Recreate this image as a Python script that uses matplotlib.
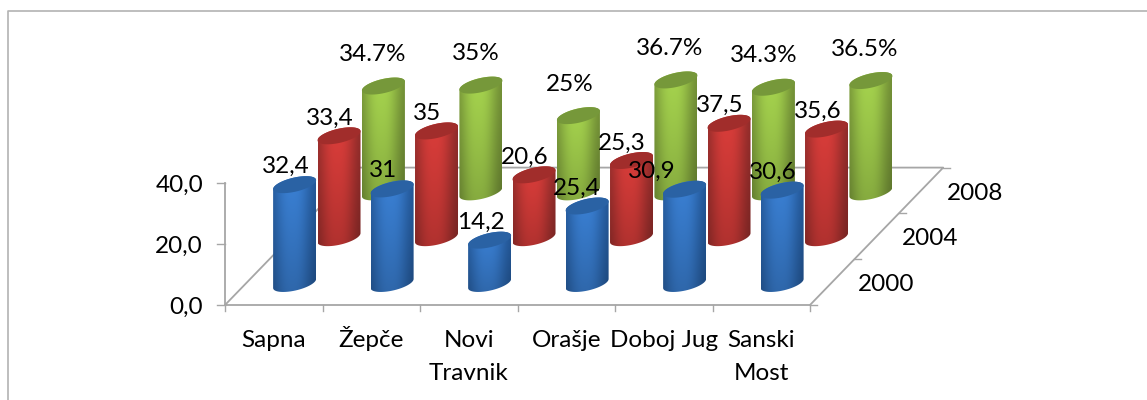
import numpy as np
import matplotlib
matplotlib.use('Agg')
import matplotlib.pyplot as plt
from matplotlib.patches import PathPatch
from matplotlib.path import Path

categories = ['Sapna', 'Žepče', 'Novi\nTravnik', 'Orašje', 'Doboj Jug', 'Sanski\nMost']
years = ['2000', '2004', '2008']
y_ticks = [0, 20, 40]
y_tick_labels = ['0,0', '20,0', '40,0']

values_2000 = [32.4, 31, 14.2, 25.4, 30.9, 30.6]
values_2004 = [33.4, 35, 20.6, 25.3, 37.5, 35.6]
values_2008 = [34.7, 35, 25, 36.7, 34.3, 36.5]
labels_2000 = ['32,4', '31', '14,2', '25,4', '30,9', '30,6']
labels_2004 = ['33,4', '35', '20,6', '25,3', '37,5', '35,6']
labels_2008 = ['34.7%', '35%', '25%', '36.7%', '34.3%', '36.5%']

series = [values_2000, values_2004, values_2008]
series_labels = [labels_2000, labels_2004, labels_2008]

# centre, edge and lid colours of each cylinder row
colors = [('#3a80d4', '#235797', '#2a62a4'),
          ('#da3d3a', '#8f2c2a', '#a12d2b'),
          ('#a6d44e', '#728f36', '#76983a')]
# label shift from the lid centre, per row (baseline of the digits)
label_dx = [[-9, -9, -9, -10, -33, -9.5],
            [-9, -9, -9, -10, -9, -9],
            [-11, -5, -9, -6, -10, -6]]
label_dy = [-11.5, -11, -25]

# oblique projection onto the picture, in pixels
ORIGIN = (225, 305)
CAT_W = 97.5
DEPTH = (44.4, -45.8)
UNIT = 3.05
FS = 17.5
AXIS = '#a6a6a6'


def project(cat, row, value=0):
    x = ORIGIN[0] + CAT_W * cat + DEPTH[0] * row
    y = ORIGIN[1] + DEPTH[1] * row - UNIT * value
    return x, y


def rgb(c):
    return np.array(matplotlib.colors.to_rgb(c))


def draw_cylinder(ax, cat, row, value, colset, z):
    cx, base = project(cat + 0.5, row + 0.47)
    top = base - UNIT * value
    a, tilt, b = 21.5, 4.5, 7.2

    t = np.linspace(0, -np.pi, 40)  # lower half, right to left
    low_x = cx + a * np.cos(t)
    low_y = base - tilt * np.cos(t) - b * np.sin(t)
    t2 = np.linspace(np.pi, 0, 40)  # top half of the top edge, left to right
    up_x = cx + a * np.cos(t2)
    up_y = top - tilt * np.cos(t2) - b * np.sin(t2)

    side = Path(np.column_stack([np.r_[low_x, up_x, low_x[0]],
                                 np.r_[low_y, up_y, low_y[0]]]))
    patch = PathPatch(side, fc='none', ec='none', zorder=z)
    ax.add_patch(patch)

    # horizontal shading, darker toward the foot
    u = np.linspace(0, 1, 90)
    light = np.exp(-(np.abs(u - 0.45) / 0.42) ** 2.6)
    light = np.clip((light - 0.1) / 0.9, 0, 1)
    v = np.linspace(0, 1, 120)[:, None]
    fade = 1 - 0.2 * v ** 1.2
    mid, edge, lid = [rgb(c) for c in colset]
    img = edge[None, None, :] + (mid - edge)[None, None, :] * light[None, :, None]
    img = img * fade[:, :, None]
    im = ax.imshow(np.clip(img, 0, 1), extent=(cx - a, cx + a, base + 12, top - 12),
                   aspect='auto', zorder=z, interpolation='bilinear')
    im.set_clip_path(patch)

    # lid
    t3 = np.linspace(0, 2 * np.pi, 80)
    ax.fill(cx + a * np.cos(t3), top - tilt * np.cos(t3) - b * np.sin(t3),
            color=lid, lw=0, zorder=z + 0.1)


fig = plt.figure(figsize=(11.47, 4), dpi=100)
plt.rcParams['font.family'] = ['Lato', 'DejaVu Sans']
ax = fig.add_axes([0, 0, 1, 1])
ax.axis('off')

# outer frame: only the left and top edges show in the crop
ax.plot([8, 8, 1147], [400, 10.5, 10.5], color='#b3b3b3', lw=1.2, zorder=1)

# floor and axes
n = len(categories)
m = len(years)
x0, y0 = project(0, 0)
x1, y1 = project(n, 0)
x2, y2 = project(n, m)
x3, y3 = project(0, m)
ax.plot([x3, x0, x1, x2, x3], [y3, y0, y1, y2, y3], color=AXIS, lw=1.3, zorder=2)
xt, yt = project(0, 0, y_ticks[-1])
ax.plot([x0, xt], [y0, yt], color=AXIS, lw=1.3, zorder=2)

for i in range(n + 1):
    x, y = project(i, 0)
    ax.plot([x, x], [y, y + 6], color=AXIS, lw=1, zorder=2)
for val, lab in zip(y_ticks, y_tick_labels):
    x, y = project(0, 0, val)
    ax.plot([x - 8, x], [y, y], color=AXIS, lw=1, zorder=2)
    ax.text(x - 22, y + 9, lab, ha='right', va='baseline', fontsize=FS, zorder=10)
for j in range(m + 1):
    x, y = project(n, j)
    ax.plot([x, x + 7], [y, y], color=AXIS, lw=1, zorder=2)

for i, name in enumerate(categories):
    x, y = project(i + 0.5, 0)
    for k, line in enumerate(name.split('\n')):
        ax.text(x, y + 42 + 33 * k, line, ha='center', va='baseline', fontsize=FS, zorder=10)
for j, name in enumerate(years):
    x, y = project(n, j + 0.5)
    ax.text(x + 54, y + 9, name, ha='center', va='baseline', fontsize=FS, zorder=10)

# back rows first so that the front rows cover them
for j in range(m - 1, -1, -1):
    for i in range(n):
        draw_cylinder(ax, i, j, series[j][i], colors[j], z=3 + (m - j) + i * 0.01)

for j in range(m):
    for i in range(n):
        x, y = project(i + 0.5, j + 0.47, series[j][i])
        ax.text(x + label_dx[j][i], y + label_dy[j], series_labels[j][i], ha='center',
                va='baseline', fontsize=FS, zorder=11)

ax.set_xlim(0, 1147)
ax.set_ylim(400, 0)

fig.savefig('out.png', dpi=100)
